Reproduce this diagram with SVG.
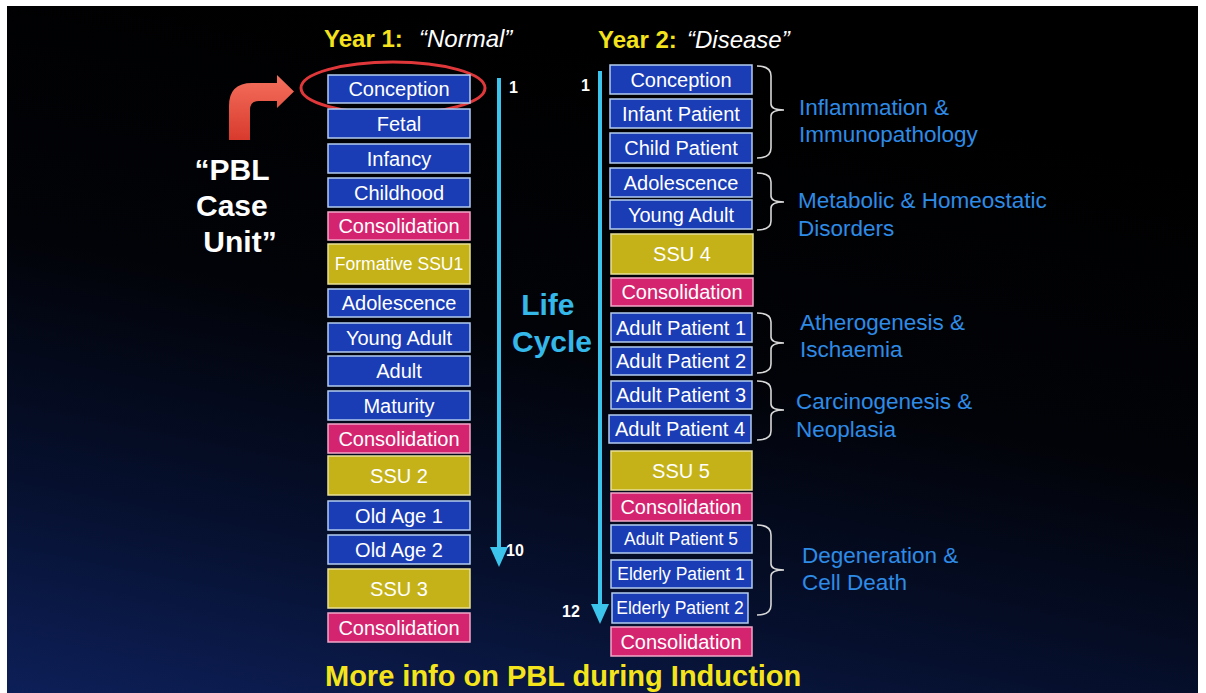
<svg xmlns="http://www.w3.org/2000/svg" width="1206" height="693" viewBox="0 0 1206 693">
<defs>
<linearGradient id="bg" x1="0.35" y1="0" x2="0" y2="1">
<stop offset="0" stop-color="#000000"/>
<stop offset="0.4" stop-color="#020308"/>
<stop offset="0.72" stop-color="#06102e"/>
<stop offset="1" stop-color="#0d1f58"/>
</linearGradient>
<linearGradient id="redg" x1="0" y1="0" x2="0" y2="1">
<stop offset="0" stop-color="#f5705e"/>
<stop offset="1" stop-color="#d83a2c"/>
</linearGradient>
<style>
.b{fill:#1a3cb4;stroke:#b4cdf0;stroke-width:1.5}
.p{fill:#d42470;stroke:#f0a8c8;stroke-width:1.5}
.y{fill:#c4b218;stroke:#e8e098;stroke-width:1.5}
.t{font-family:"Liberation Sans",Arial,sans-serif;font-size:20px;fill:#ffffff;text-anchor:middle}
.ts{font-size:17.5px}
.cat{font-family:"Liberation Sans",Arial,sans-serif;font-size:22.5px;fill:#2e8be6}
.num{font-family:"Liberation Sans",Arial,sans-serif;font-weight:bold;font-size:16px;fill:#ffffff}
.brace{fill:none;stroke:#d8d8d8;stroke-width:1.6}
.axis{stroke:#3cc4ec;stroke-width:4;fill:none}
</style>
</defs>
<rect x="0" y="0" width="1206" height="693" fill="#ffffff"/>
<rect x="7" y="6" width="1191" height="687" fill="url(#bg)"/>

<!-- titles -->
<g id="title1">
<text x="324" y="47" font-family="Liberation Sans,Arial,sans-serif" font-weight="bold" font-size="24" fill="#f4e21c">Year 1:</text>
<text x="419" y="47" font-family="Liberation Sans,Arial,sans-serif" font-style="italic" font-size="24" fill="#ffffff">“Normal”</text>
</g>
<g id="title2">
<text x="598" y="48" font-family="Liberation Sans,Arial,sans-serif" font-weight="bold" font-size="24" fill="#f4e21c">Year 2:</text>
<text x="687" y="48" font-family="Liberation Sans,Arial,sans-serif" font-style="italic" font-size="24" fill="#ffffff">“Disease”</text>
</g>

<!-- PBL case unit -->
<g id="pbl">
<path d="M229,140 L229,106 Q229,83 252,83 L277,83 L277,75 L294,91.5 L277,108 L277,101 L259,101 Q250,101 250,110 L250,140 Z" fill="url(#redg)"/>
<text font-family="Liberation Sans,Arial,sans-serif" font-weight="bold" font-size="30" fill="#ffffff" text-anchor="middle">
<tspan x="236" y="180">“PBL</tspan>
<tspan x="236" y="216">Case</tspan>
<tspan x="240" y="252">Unit”</tspan>
</text>
</g>

<!-- connectors: life-cycle axes, braces, highlight -->
<g id="connectors">
<line class="axis" x1="499" y1="78" x2="499" y2="549"/>
<path d="M490,547 L508,547 L499,567 Z" fill="#3cc4ec"/>
<line class="axis" x1="600" y1="71" x2="600" y2="606"/>
<path d="M591,604 L609,604 L600,624 Z" fill="#3cc4ec"/>
<path class="brace" d="M757,66 Q771,66 771,76 L771,104 Q771,110 784,110 Q771,110 771,116 L771,148 Q771,158 757,158"/>
<path class="brace" d="M757,173 Q771,173 771,182 L771,196 Q771,202 784,202 Q771,202 771,208 L771,221 Q771,230 757,230"/>
<path class="brace" d="M757,313 Q771,313 771,322 L771,337 Q771,343 784,343 Q771,343 771,349 L771,364 Q771,373 757,373"/>
<path class="brace" d="M757,381 Q771,381 771,390 L771,404 Q771,410 784,410 Q771,410 771,416 L771,431 Q771,440 757,440"/>
<path class="brace" d="M757,525 Q771,525 771,535 L771,564 Q771,570 784,570 Q771,570 771,576 L771,605 Q771,615 757,615"/>
<ellipse cx="393" cy="88" rx="92" ry="26" fill="none" stroke="#e0383a" stroke-width="3"/>
</g>

<g id="axislabels">
<text class="num" x="509" y="93" font-size="15">1</text>
<text class="num" x="506" y="556">10</text>
<text class="num" x="581" y="91" font-size="15">1</text>
<text class="num" x="562" y="617">12</text>
<text font-family="Liberation Sans,Arial,sans-serif" font-weight="bold" font-size="30" fill="#34b8ea" text-anchor="middle">
<tspan x="552" y="315">Life</tspan>
<tspan x="552" y="352">Cycle</tspan>
</text>
</g>

<!-- Year 1 column -->
<g id="y1-conception"><rect class="b" x="328" y="75" width="142" height="28"/><text class="t" x="399" y="96">Conception</text></g>
<g id="y1-fetal"><rect class="b" x="328" y="109" width="142" height="29"/><text class="t" x="399" y="131">Fetal</text></g>
<g id="y1-infancy"><rect class="b" x="328" y="144" width="142" height="29"/><text class="t" x="399" y="166">Infancy</text></g>
<g id="y1-childhood"><rect class="b" x="328" y="178" width="142" height="29"/><text class="t" x="399" y="200">Childhood</text></g>
<g id="y1-consol1"><rect class="p" x="328" y="212" width="142" height="28"/><text class="t" x="399" y="233">Consolidation</text></g>
<g id="y1-ssu1"><rect class="y" x="328" y="244" width="142" height="40"/><text class="t ts" x="399" y="270">Formative SSU1</text></g>
<g id="y1-adolescence"><rect class="b" x="328" y="289" width="142" height="28"/><text class="t" x="399" y="310">Adolescence</text></g>
<g id="y1-youngadult"><rect class="b" x="328" y="323" width="142" height="29"/><text class="t" x="399" y="345">Young Adult</text></g>
<g id="y1-adult"><rect class="b" x="328" y="356" width="142" height="30"/><text class="t" x="399" y="378">Adult</text></g>
<g id="y1-maturity"><rect class="b" x="328" y="391" width="142" height="29"/><text class="t" x="399" y="413">Maturity</text></g>
<g id="y1-consol2"><rect class="p" x="328" y="424" width="142" height="29"/><text class="t" x="399" y="446">Consolidation</text></g>
<g id="y1-ssu2"><rect class="y" x="328" y="456" width="142" height="39"/><text class="t" x="399" y="483">SSU 2</text></g>
<g id="y1-oldage1"><rect class="b" x="328" y="501" width="142" height="29"/><text class="t" x="399" y="523">Old Age 1</text></g>
<g id="y1-oldage2"><rect class="b" x="328" y="535" width="142" height="29"/><text class="t" x="399" y="557">Old Age 2</text></g>
<g id="y1-ssu3"><rect class="y" x="328" y="569" width="142" height="39"/><text class="t" x="399" y="596">SSU 3</text></g>
<g id="y1-consol3"><rect class="p" x="328" y="613" width="142" height="29"/><text class="t" x="399" y="635">Consolidation</text></g>

<!-- Year 2 column -->
<g id="y2-conception"><rect class="b" x="610" y="65" width="142" height="29"/><text class="t" x="681" y="87">Conception</text></g>
<g id="y2-infant"><rect class="b" x="610" y="99" width="142" height="29"/><text class="t" x="681" y="121">Infant Patient</text></g>
<g id="y2-child"><rect class="b" x="610" y="133" width="142" height="30"/><text class="t" x="681" y="155">Child Patient</text></g>
<g id="y2-adolescence"><rect class="b" x="610" y="168" width="142" height="29"/><text class="t" x="681" y="190">Adolescence</text></g>
<g id="y2-youngadult"><rect class="b" x="610" y="200" width="142" height="29"/><text class="t" x="681" y="222">Young Adult</text></g>
<g id="y2-ssu4"><rect class="y" x="611" y="234" width="142" height="40"/><text class="t" x="682" y="261">SSU 4</text></g>
<g id="y2-consol1"><rect class="p" x="611" y="278" width="142" height="28"/><text class="t" x="682" y="299">Consolidation</text></g>
<g id="y2-adult1"><rect class="b" x="611" y="313" width="141" height="29"/><text class="t" x="681" y="335">Adult Patient  1</text></g>
<g id="y2-adult2"><rect class="b" x="611" y="347" width="141" height="28"/><text class="t" x="681" y="368">Adult Patient 2</text></g>
<g id="y2-adult3"><rect class="b" x="611" y="381" width="141" height="28"/><text class="t" x="681" y="402">Adult Patient 3</text></g>
<g id="y2-adult4"><rect class="b" x="609" y="415" width="142" height="28"/><text class="t" x="680" y="436">Adult Patient 4</text></g>
<g id="y2-ssu5"><rect class="y" x="611" y="451" width="141" height="39"/><text class="t" x="681" y="478">SSU 5</text></g>
<g id="y2-consol2"><rect class="p" x="611" y="493" width="141" height="28"/><text class="t" x="681" y="514">Consolidation</text></g>
<g id="y2-adult5"><rect class="b" x="611" y="525" width="141" height="28"/><text class="t ts" x="681" y="545">Adult Patient 5</text></g>
<g id="y2-elderly1"><rect class="b" x="611" y="560" width="141" height="28"/><text class="t ts" x="681" y="580">Elderly Patient 1</text></g>
<g id="y2-elderly2"><rect class="b" x="612" y="593" width="136" height="30"/><text class="t ts" x="680" y="614">Elderly Patient 2</text></g>
<g id="y2-consol3"><rect class="p" x="611" y="627" width="141" height="29"/><text class="t" x="681" y="649">Consolidation</text></g>

<!-- category labels -->
<g id="cat-inflammation"><text class="cat"><tspan x="799" y="115">Inflammation &amp;</tspan><tspan x="799" y="142">Immunopathology</tspan></text></g>
<g id="cat-metabolic"><text class="cat"><tspan x="798" y="208">Metabolic &amp; Homeostatic</tspan><tspan x="798" y="236">Disorders</tspan></text></g>
<g id="cat-athero"><text class="cat"><tspan x="800" y="330">Atherogenesis &amp;</tspan><tspan x="800" y="357">Ischaemia</tspan></text></g>
<g id="cat-carcino"><text class="cat"><tspan x="796" y="409">Carcinogenesis &amp;</tspan><tspan x="796" y="437">Neoplasia</tspan></text></g>
<g id="cat-degen"><text class="cat"><tspan x="802" y="563">Degeneration &amp;</tspan><tspan x="802" y="590">Cell Death</tspan></text></g>

<g id="footer">
<text x="325" y="686" font-family="Liberation Sans,Arial,sans-serif" font-weight="bold" font-size="29" fill="#f4e41c">More info on PBL during Induction</text>
</g>
</svg>
